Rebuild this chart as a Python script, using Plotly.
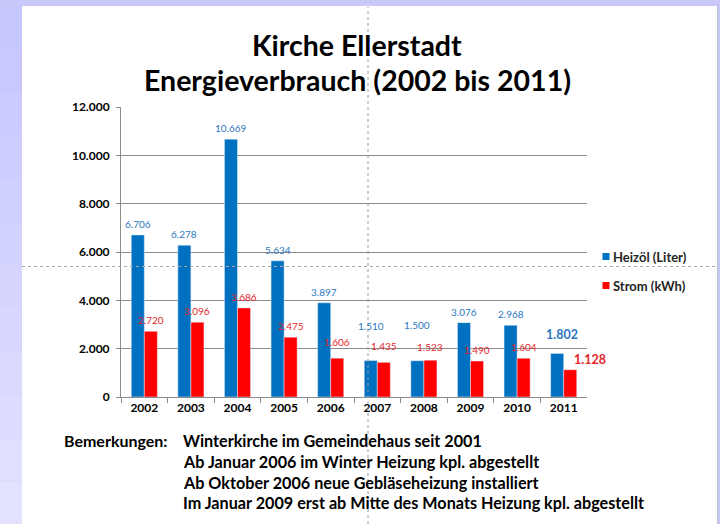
import plotly.graph_objects as go

# ---- data ----
years = ["2002", "2003", "2004", "2005", "2006", "2007", "2008", "2009", "2010", "2011"]
heizoel_liter = [6706, 6278, 10669, 5634, 3897, 1510, 1500, 3076, 2968, 1802]
strom_kwh = [2720, 3096, 3686, 2475, 1606, 1435, 1523, 1490, 1604, 1128]
series_names = ["Heizöl (Liter)", "Strom (kWh)"]
title_lines = ["Kirche Ellerstadt", "Energieverbrauch (2002 bis 2011)"]
note_label = "Bemerkungen:"
notes = [
    "Winterkirche im Gemeindehaus seit 2001",
    "Ab Januar 2006 im Winter Heizung kpl. abgestellt",
    "Ab Oktober 2006 neue Gebläseheizung installiert",
    "Im Januar 2009 erst ab Mitte des Monats Heizung kpl. abgestellt",
]

# ---- style ----
W, H = 720, 524
BLUE, RED = "#0070c0", "#ff0000"
BLUE_TXT, RED_TXT = "#2b78c0", "#e3262a"
GRID = "#8c8c8c"
FONT = "Lato"
LAV = "#c8c8fa"


def px(x):
    return x / W


def py(y):
    return 1 - y / H


def fmt(v):
    return f"{v:,}".replace(",", ".")


fig = go.Figure()
fig.add_trace(go.Bar(x=years, y=heizoel_liter, name=series_names[0], marker_color=BLUE,
                     showlegend=False, hoverinfo="x+y"))
fig.add_trace(go.Bar(x=years, y=strom_kwh, name=series_names[1], marker_color=RED,
                     showlegend=False, hoverinfo="x+y"))

shapes = []
# slide background: lavender frame with white content area
shapes.append(dict(type="rect", xref="paper", yref="paper", x0=px(22), x1=px(717.5),
                   y0=py(524), y1=py(6), fillcolor="white", line_width=0, layer="below"))
# left strip gradient
n = 12
for i in range(n):
    t = i / (n - 1)
    r = int(0xc6 + t * (0xe2 - 0xc6))
    g = int(0xc6 + t * (0xe2 - 0xc6))
    shapes.append(dict(type="rect", xref="paper", yref="paper", x0=0, x1=px(22),
                       y0=py(6 + (i + 1) * (518 / n)), y1=py(6 + i * (518 / n)),
                       fillcolor=f"rgb({r},{g},255)", line_width=0, layer="below"))
shapes.append(dict(type="line", xref="paper", yref="paper", x0=px(717.8), x1=px(717.8),
                   y0=0, y1=py(6), line=dict(color="#b8b8c8", width=1), layer="below"))
# dashed cross-hair guides
shapes.append(dict(type="line", xref="paper", yref="paper", x0=px(368), x1=px(368),
                   y0=0, y1=py(7), line=dict(color="#9a9a9a", width=1, dash="3px,3px"),
                   layer="above"))
shapes.append(dict(type="line", xref="paper", yref="paper", x0=px(22), x1=px(717),
                   y0=py(266.5), y1=py(266.5), line=dict(color="#a8a8a8", width=1, dash="3px,3px"),
                   layer="above"))
# legend squares
for yy, col in [(256.5, BLUE), (285.5, RED)]:
    shapes.append(dict(type="rect", xref="paper", yref="paper", x0=px(602.5), x1=px(609.5),
                       y0=py(yy + 3.5), y1=py(yy - 3.5), fillcolor=col, line_width=0))

ann = []
# title
for txt, yy in zip(title_lines, [45, 80]):
    ann.append(dict(text=f"<b>{txt}</b>", xref="paper", yref="paper", x=px(357), y=py(yy),
                    xanchor="center", yanchor="middle", showarrow=False,
                    font=dict(family=FONT, size=28.5, color="#000000")))
# legend text
for txt, yy in zip(series_names, [257, 286]):
    ann.append(dict(text=f"<b>{txt}</b>", xref="paper", yref="paper", x=px(611), y=py(yy),
                    xanchor="left", yanchor="middle", showarrow=False,
                    font=dict(family=FONT, size=13, color="#262626")))
# notes
ann.append(dict(text=f"<b>{note_label}</b>", xref="paper", yref="paper", x=px(62), y=py(440),
                xanchor="left", yanchor="middle", showarrow=False,
                font=dict(family=FONT, size=16, color="#000000")))
for txt, yy in zip(notes, [440, 461, 482, 502]):
    ann.append(dict(text=f"<b>{txt}</b>", xref="paper", yref="paper", x=px(181), y=py(yy),
                    xanchor="left", yanchor="middle", showarrow=False,
                    font=dict(family=FONT, size=16.2, color="#000000")))

# data labels (nudges mimic manually moved labels in the original)
nudge_blue = {"2007": (0, 24), "2008": (0, 25), "2011": (5, 8)}
nudge_red = {"2006": (0, 5), "2007": (0, 5), "2008": (0, 2), "2011": (20, -1)}
for vals, col, base_dx, nudges in [(heizoel_liter, BLUE_TXT, -6.5, nudge_blue),
                                   (strom_kwh, RED_TXT, 6.5, nudge_red)]:
    for i, (yr, v) in enumerate(zip(years, vals)):
        dx, dy = nudges.get(yr, (0, 0))
        last = yr == years[-1]
        ann.append(dict(text=f"<b>{fmt(v)}</b>" if last else fmt(v), xref="x", yref="y",
                        x=i, y=v, xshift=base_dx + dx, yshift=11 + dy,
                        xanchor="center", yanchor="middle", showarrow=False,
                        font=dict(family=FONT, size=12.5 if last else 10, color=col)))

fig.update_layout(
    width=W, height=H,
    margin=dict(l=0, r=0, t=0, b=0),
    paper_bgcolor=LAV,
    plot_bgcolor="rgba(0,0,0,0)",
    barmode="group", bargap=0.44, bargroupgap=0,
    separators=",.",
    shapes=shapes, annotations=ann,
    showlegend=False,
    font=dict(family=FONT, color="#000000"),
)
fig.update_xaxes(
    domain=[px(121), px(587)], type="category", automargin=False,
    range=[-0.5, len(years) - 0.5],
    showline=True, linecolor=GRID, linewidth=1,
    ticks="outside", tickson="boundaries", ticklen=5, tickcolor=GRID,
    tickfont=dict(family=FONT, size=12, color="#000000"),
    tickprefix="<b>", ticksuffix="</b>", tickangle=0,
    showgrid=False,
)
fig.update_yaxes(
    domain=[py(397), py(107)], range=[0, 12000], dtick=2000, tickformat=",d",
    automargin=False,
    showline=True, linecolor=GRID, linewidth=1,
    ticks="outside", ticklen=4, tickcolor=GRID,
    showgrid=True, gridcolor=GRID, gridwidth=1, zeroline=False,
    tickfont=dict(family=FONT, size=12, color="#000000"),
    tickprefix="<b>", ticksuffix="</b>",
    ticklabelstandoff=4,
)

fig.write_html("out.html", config={"displayModeBar": False},
               post_script="document.body.style.margin='0';")
